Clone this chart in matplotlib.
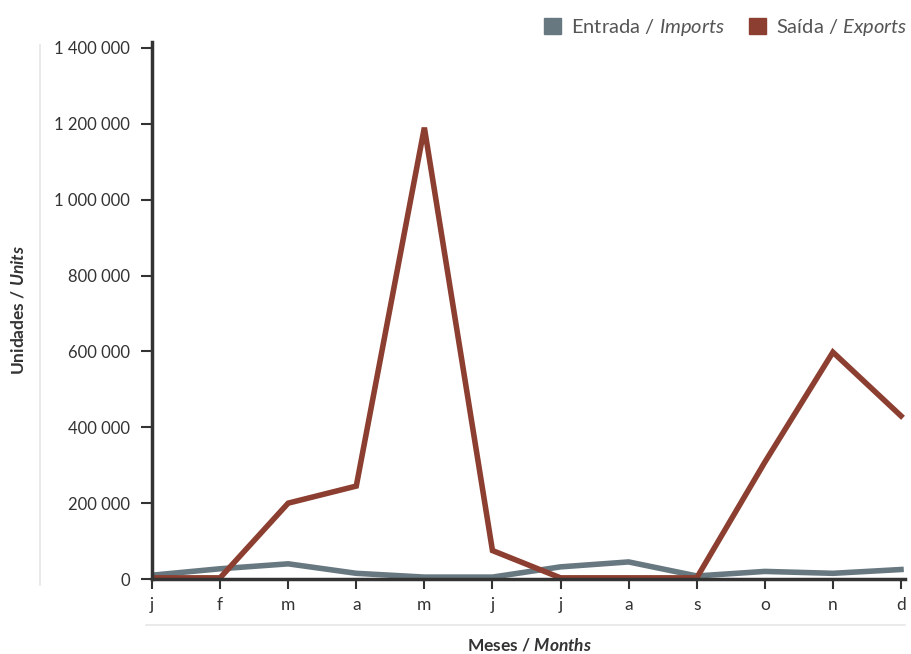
import numpy as np
import matplotlib as mplt
import matplotlib.pyplot as plt
from matplotlib.lines import Line2D
from matplotlib.patches import Patch
from matplotlib.ticker import FuncFormatter

months = ["j", "f", "m", "a", "m", "j", "j", "a", "s", "o", "n", "d"]
imports = [10000, 27000, 40000, 15000, 5000, 5000, 32000, 45000, 8000, 20000, 15000, 25000]
exports = [3000, 3000, 200000, 245000, 1190000, 75000, 3000, 3000, 3000, 308000, 598000, 430000]
yticks = [0, 200000, 400000, 600000, 800000, 1000000, 1200000, 1400000]

c_imp = "#687880"
c_exp = "#8c3f30"
dark = "#333333"

mplt.rcParams.update({
    'font.family': ['Lato', 'DejaVu Sans'],
    'mathtext.fontset': 'custom',
    'mathtext.it': 'Lato:italic',
    'mathtext.bf': 'Lato:bold',
    'mathtext.bfit': 'Lato:italic:bold',
    'mathtext.rm': 'Lato',
})

fig = plt.figure(figsize=(9.11, 6.54), dpi=100)
ax = fig.add_axes([152/911, 75/654, 753/911, 531/654])

x = np.arange(len(months))
ax.plot(x, imports, color=c_imp, lw=4, solid_joinstyle='miter', zorder=3)
ax.plot(x, exports, color=c_exp, lw=4, solid_joinstyle='miter', zorder=4)

ax.set_xlim(0, 11 * 753 / 749)
ax.set_ylim(0, 1400000)
ax.set_xticks(x)
ax.set_xticklabels(months)
ax.set_yticks(yticks)
ax.yaxis.set_major_formatter(FuncFormatter(lambda v, p: "{:,}".format(int(v)).replace(",", " ")))

for s in ["top", "right"]:
    ax.spines[s].set_visible(False)
for s in ["left", "bottom"]:
    ax.spines[s].set_color(dark)
    ax.spines[s].set_linewidth(2.5)
    ax.spines[s].set_zorder(5)
ax.spines["left"].set_bounds(0, 1415000)

ax.tick_params(axis='y', length=8, width=1.5, color=dark, labelsize=12, labelcolor=dark, pad=8)
ax.tick_params(axis='x', length=7, width=1.5, color=dark, labelsize=12.5, labelcolor=dark, pad=6)

fig.text(18/911, 1 - 310/654, r"Unidades / $\mathbfit{Units}$", rotation=90, fontweight='bold',
         fontsize=12.5, color=dark, ha='center', va='center')
fig.text(530/911, 1 - 645/654, r"Meses / $\mathbfit{Months}$", fontweight='bold',
         fontsize=12.5, color=dark, ha='center', va='center')

fig.add_artist(Line2D([40/911, 40/911], [1 - 45/654, 1 - 585/654], color="#e6e6e6", lw=1.2))
fig.add_artist(Line2D([146/911, 905/911], [1 - 625/654, 1 - 625/654], color="#e6e6e6", lw=1.2))

handles = [Patch(color=c_imp), Patch(color=c_exp)]
labels = [r"Entrada / $\mathit{Imports}$", r"Saída / $\mathit{Exports}$"]
fig.legend(handles, labels, loc='upper right', bbox_to_anchor=(1.014, 0.998), ncol=2, frameon=False,
           fontsize=14.5, handlelength=0.85, handleheight=0.85, handletextpad=0.5, columnspacing=1.2,
           labelcolor="#555555", borderaxespad=0.4)

fig.savefig("out.png", dpi=100)
